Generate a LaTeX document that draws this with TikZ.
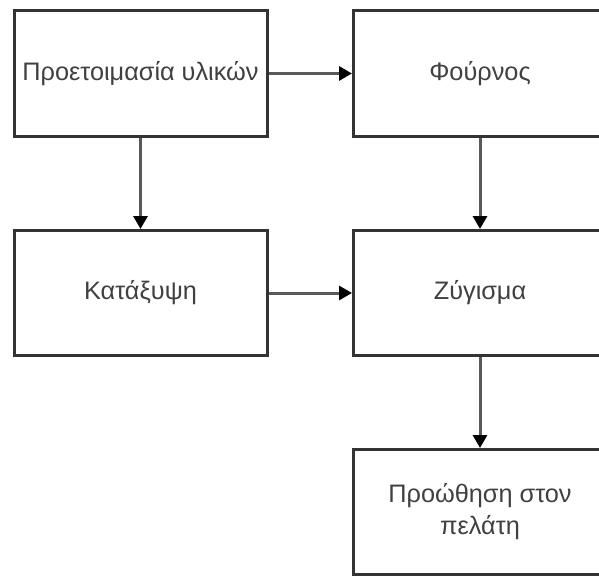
\documentclass[tikz,border=0pt]{standalone}
\usepackage{fontspec}
\setmainfont{Liberation Sans}
\usetikzlibrary{arrows.meta}
\begin{document}
\begin{tikzpicture}[x=1pt,y=-1pt,
  box/.style={draw=black!80, line width=3pt, fill=white, minimum width=253pt, minimum height=125pt, inner sep=0pt, font=\fontsize{25.3}{32}\selectfont, text=black!75, align=center},
  conn/.style={draw=black!65, line width=3pt, -{Triangle[length=13pt,width=14pt,fill=black,color=black]}}]
\useasboundingbox (0,0) rectangle (599,575);
\clip (0,0) rectangle (599,575);
\node[box] (prep) at (140.5,73.5) {Προετοιμασία υλικών};
\node[box] (oven) at (480,73.5) {Φούρνος};
\node[box] (freeze) at (140.5,293) {Κατάξυψη};
\node[box] (weigh) at (480,293) {Ζύγισμα};
\node[box] (ship) at (480,512) {Προώθηση στον\\πελάτη};
\draw[conn] (prep) -- (oven);
\draw[conn] (prep) -- (freeze);
\draw[conn] (oven) -- (weigh);
\draw[conn] (freeze) -- (weigh);
\draw[conn] (weigh) -- (ship);
\end{tikzpicture}
\end{document}
